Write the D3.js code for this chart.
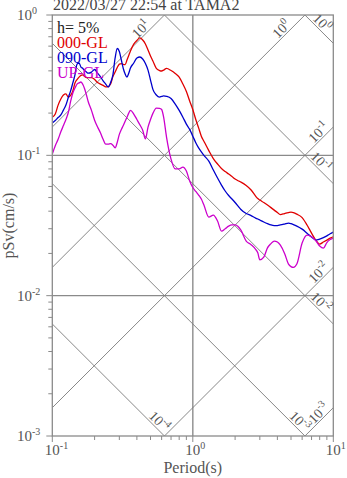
<!DOCTYPE html>
<html>
<head>
<meta charset="utf-8">
<script src="https://cdn.jsdelivr.net/npm/d3@7"></script>
<style>
  html, body { margin: 0; padding: 0; background: #fff; }
  svg { display: block; font-family: "Liberation Serif", "DejaVu Serif", serif; }
</style>
</head>
<body>
<svg id="chart" width="347" height="478"></svg>
<script>
// Pseudo velocity response spectra, h = 5%
const title = "2022/03/27 22:54 at TAMA2";
const damping = "h= 5%";
const seriesNames = ["000-GL", "090-GL", "UP-GL"];
const seriesColors = ["#e00000", "#0000cc", "#cc00cc"];

const periods = [0.10,0.105,0.11,0.115,0.12,0.125,0.13,0.135,0.14,0.145,0.15,0.155,0.16,0.165,0.17,0.175,0.18,
  0.19,0.20,0.21,0.22,0.23,0.24,0.25,0.26,0.27,0.28,0.29,0.30,0.31,0.32,0.33,0.34,0.35,0.36,
  0.38,0.40,0.42,0.44,0.46,0.48,0.50,0.52,
  0.55,0.58,0.60,0.62,0.65,
  0.70,0.75,0.80,0.85,0.90,0.95,1.0,1.05,1.1,1.15,1.2,
  1.3,1.4,1.5,1.6,1.7,1.8,1.9,2.0,2.1,2.2,
  2.4,2.6,2.8,2.9,3.0,
  3.2,3.4,3.6,3.8,4.0,4.2,
  4.5,4.8,5.0,5.2,5.5,
  6.0,6.5,7.0,7.5,8.0,8.5,9.0,9.5,10];

const sv000 = [0.187,0.197,0.228,0.252,0.269,0.274,0.260,0.267,0.288,0.328,0.347,0.361,0.371,0.374,0.364,0.358,0.358,
  0.358,0.347,0.330,0.322,0.315,0.307,0.309,0.322,0.364,0.392,0.423,0.447,0.451,0.445,0.443,0.478,0.515,0.554,
  0.620,0.658,0.686,0.663,0.621,0.563,0.510,0.470,
  0.416,0.402,0.399,0.405,0.416,
  0.402,0.383,0.361,0.322,0.285,0.244,0.212,0.180,0.157,0.137,0.126,
  0.108,0.0947,0.0867,0.0805,0.0766,0.0736,0.0706,0.0678,0.0659,0.0645,
  0.0609,0.0566,0.0512,0.0492,0.0480,
  0.0461,0.0442,0.0424,0.0407,0.0391,0.0378,
  0.0385,0.0391,0.0394,0.0391,0.0381,
  0.0360,0.0319,0.0279,0.0249,0.0233,0.0241,0.0249,0.0257,0.0262];

const sv090 = [0.170,0.177,0.186,0.194,0.210,0.228,0.258,0.288,0.328,0.374,0.447,0.455,0.426,0.416,0.402,0.392,0.385,
  0.392,0.409,0.385,0.364,0.339,0.322,0.307,0.330,0.374,0.494,0.577,0.549,0.478,0.416,0.380,0.361,0.385,0.419,
  0.455,0.494,0.502,0.486,0.451,0.405,0.344,0.295,
  0.269,0.260,0.263,0.265,0.263,
  0.254,0.232,0.209,0.187,0.167,0.153,0.137,0.123,0.113,0.106,0.100,
  0.091,0.0786,0.0689,0.0614,0.0557,0.0517,0.0488,0.0461,0.0435,0.0411,
  0.0385,0.0372,0.0357,0.0352,0.0346,
  0.0335,0.0326,0.0319,0.0316,0.0316,0.0319,
  0.0324,0.0329,0.0326,0.0321,0.0313,
  0.0298,0.0279,0.0262,0.0249,0.0253,0.0259,0.0267,0.0276,0.0284];

const svUP = [0.102,0.117,0.130,0.147,0.163,0.180,0.202,0.242,0.278,0.302,0.322,0.328,0.333,0.320,0.297,0.269,0.242,
  0.209,0.178,0.159,0.145,0.130,0.120,0.120,0.121,0.118,0.113,0.124,0.141,0.153,0.163,0.175,0.187,0.200,0.209,
  0.197,0.180,0.165,0.151,0.131,0.159,0.180,0.199,
  0.217,0.216,0.212,0.187,0.135,
  0.094,0.080,0.080,0.0825,0.0773,0.0656,0.0590,0.0553,0.0521,0.0488,0.0442,
  0.0363,0.0375,0.0340,0.0288,0.0300,0.0313,0.0319,0.0319,0.0311,0.0293,
  0.0245,0.0231,0.0214,0.0202,0.0180,
  0.0188,0.0219,0.0235,0.0245,0.0241,0.0229,
  0.0200,0.0168,0.0161,0.0159,0.0168,
  0.0237,0.0270,0.0263,0.0247,0.0226,0.0218,0.0239,0.0251,0.0257];

// Tripartite guide lines: acceleration (cm/s^2) and displacement (cm) exponents
const accelExponents = [1, 0, -1, -2, -3];
const dispExponents = [0, -1, -2, -3, -4];

const xTickExponents = [-1, 0, 1];
const yTickExponents = [0, -1, -2, -3];

(function draw() {
  const pL = 52.3, pR = 333.3, pT = 15, pB = 436;
  const x = d3.scaleLog().domain([0.1, 10]).range([pL, pR]);
  const y = d3.scaleLog().domain([0.001, 1]).range([pB, pT]);

  const svg = d3.select("#chart");
  const axisColor = "#8a8a8a";
  const textColor = "#555";

  svg.append("defs").append("clipPath").attr("id", "plotClip")
    .append("rect").attr("x", pL).attr("y", pT)
    .attr("width", pR - pL).attr("height", pB - pT);

  const plot = svg.append("g").attr("clip-path", "url(#plotClip)");

  // decade grid
  plot.append("line").attr("x1", x(1)).attr("x2", x(1)).attr("y1", pT).attr("y2", pB)
    .attr("stroke", "#9a9a9a").attr("stroke-width", 1.6);
  [0.1, 0.01].forEach(v => {
    plot.append("line").attr("x1", pL).attr("x2", pR).attr("y1", y(v)).attr("y2", y(v))
      .attr("stroke", "#8a8a8a").attr("stroke-width", 1.4);
  });

  // diagonal guides
  const twoPi = 2 * Math.PI;
  const diagLine = d3.line().x(d => x(d[0])).y(d => y(d[1]));
  const tFar = [0.01, 1000];
  accelExponents.forEach(k => {
    const sa = Math.pow(10, k);
    plot.append("path").attr("d", diagLine(tFar.map(t => [t, sa * t / twoPi])))
      .attr("fill", "none").attr("stroke", "#7a7a7a").attr("stroke-width", 0.9);
  });
  dispExponents.forEach(k => {
    const sd = Math.pow(10, k);
    plot.append("path").attr("d", diagLine(tFar.map(t => [t, twoPi * sd / t])))
      .attr("fill", "none").attr("stroke", "#7a7a7a").attr("stroke-width", 0.9);
  });

  // spectra
  const curve = d3.line().x(d => x(d[0])).y(d => y(d[1])).curve(d3.curveMonotoneX);
  [sv000, sv090, svUP].forEach((vals, i) => {
    plot.append("path")
      .attr("d", curve(periods.map((t, j) => [t, vals[j]])))
      .attr("fill", "none").attr("stroke", seriesColors[i]).attr("stroke-width", 1.3);
  });

  // frame
  svg.append("rect").attr("x", pL).attr("y", pT).attr("width", pR - pL).attr("height", pB - pT)
    .attr("fill", "none").attr("stroke", axisColor).attr("stroke-width", 1.3);

  function powerLabel(g, exp, supSize, supRise) {
    g.append("tspan").text("10");
    g.append("tspan").attr("dy", -supRise).attr("font-size", supSize).text(String(exp));
  }

  // diagonal labels
  function diagLabel(px, py, angle, inset, exp) {
    const rad = angle * Math.PI / 180;
    const lx = px - inset * Math.cos(rad);
    const ly = py - inset * Math.sin(rad);
    const t = svg.append("text")
      .attr("transform", `translate(${lx},${ly}) rotate(${angle})`)
      .attr("text-anchor", "end").attr("dy", -2)
      .attr("fill", textColor).attr("font-size", 14);
    powerLabel(t, exp, 10, 6);
  }
  accelExponents.forEach(k => {
    const sa = Math.pow(10, k);
    const tTop = twoPi / sa;
    if (tTop <= 10) diagLabel(x(tTop), y(1), -45, 17, k);
    else diagLabel(x(10), y(sa * 10 / twoPi), -45, 3, k);
  });
  dispExponents.forEach(k => {
    const sd = Math.pow(10, k);
    const svEnd = twoPi * sd / 10;
    if (svEnd >= 0.001) diagLabel(x(10), y(svEnd), 45, 13, k);
    else diagLabel(x(twoPi * sd / 0.001), y(0.001), 45, 3, k);
  });

  // axes ticks
  const minorY = [];
  for (let e = -3; e < 0; e++) for (let m = 2; m <= 9; m++) minorY.push(m * Math.pow(10, e));
  minorY.forEach(v => {
    svg.append("line").attr("x1", pL - 4).attr("x2", pL).attr("y1", y(v)).attr("y2", y(v))
      .attr("stroke", axisColor);
  });
  yTickExponents.forEach(e => {
    const v = Math.pow(10, e);
    svg.append("line").attr("x1", pL - 6).attr("x2", pL).attr("y1", y(v)).attr("y2", y(v))
      .attr("stroke", axisColor);
    const t = svg.append("text").attr("x", 17).attr("y", y(v) + 5)
      .attr("fill", textColor).attr("font-size", 15);
    powerLabel(t, e, 10, 6);
  });
  const minorX = [];
  for (let e = -1; e < 1; e++) for (let m = 2; m <= 9; m++) minorX.push(m * Math.pow(10, e));
  minorX.forEach(v => {
    svg.append("line").attr("x1", x(v)).attr("x2", x(v)).attr("y1", pB).attr("y2", pB + 4)
      .attr("stroke", axisColor);
  });
  xTickExponents.forEach(e => {
    const v = Math.pow(10, e);
    svg.append("line").attr("x1", x(v)).attr("x2", x(v)).attr("y1", pB).attr("y2", pB + 6)
      .attr("stroke", axisColor);
    const t = svg.append("text").attr("x", x(v) - 7.5).attr("y", 455)
      .attr("fill", textColor).attr("font-size", 15);
    powerLabel(t, e, 10, 6);
  });

  // axis titles
  svg.append("text").attr("x", (pL + pR) / 2).attr("y", 473).attr("text-anchor", "middle")
    .attr("fill", textColor).attr("font-size", 16).text("Period(s)");
  svg.append("text").attr("transform", `translate(14,${(pT + pB) / 2}) rotate(-90)`)
    .attr("text-anchor", "middle").attr("fill", textColor).attr("font-size", 16).text("pSv(cm/s)");

  // title
  svg.append("text").attr("x", 53).attr("y", 10).attr("fill", "#444").attr("font-size", 16).text(title);

  // legend
  const legendY = [33, 48, 63, 77.5];
  svg.append("text").attr("x", 57).attr("y", legendY[0]).attr("fill", "#222").attr("font-size", 16).text(damping);
  seriesNames.forEach((name, i) => {
    svg.append("text").attr("x", 57).attr("y", legendY[i + 1]).attr("fill", seriesColors[i])
      .attr("font-size", 16).text(name);
  });
})();
</script>
</body>
</html>
